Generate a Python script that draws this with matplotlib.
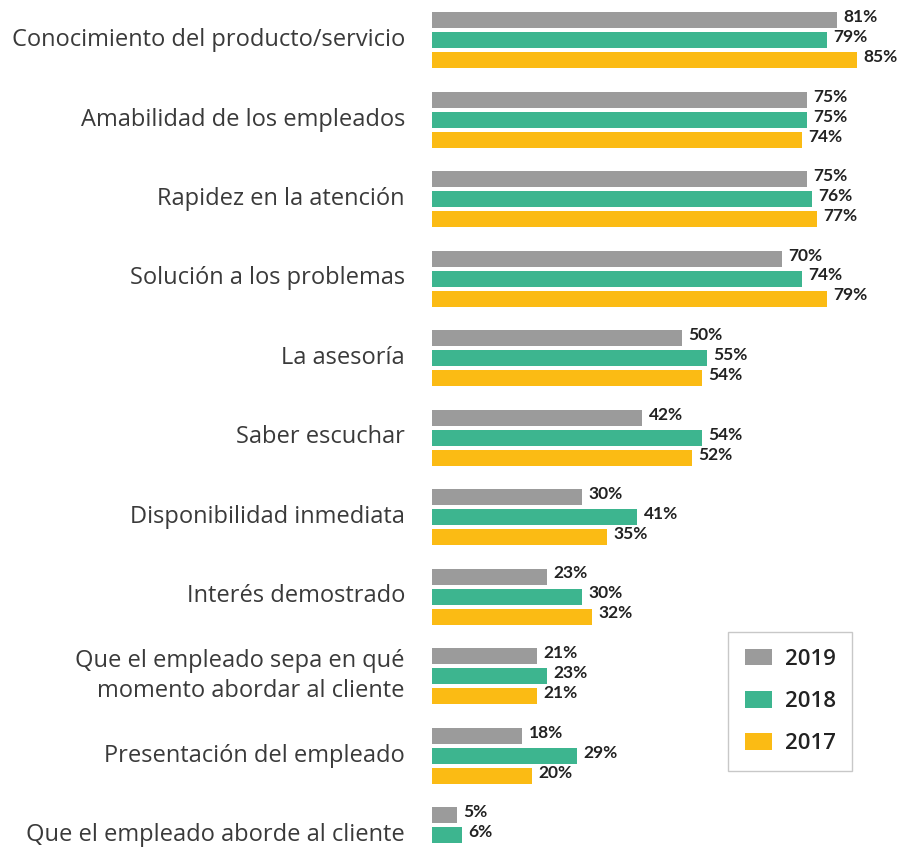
import matplotlib
matplotlib.use("Agg")
import matplotlib.pyplot as plt
from matplotlib.patches import Patch

categories = [
    "Conocimiento del producto/servicio",
    "Amabilidad de los empleados",
    "Rapidez en la atención",
    "Solución a los problemas",
    "La asesoría",
    "Saber escuchar",
    "Disponibilidad inmediata",
    "Interés demostrado",
    "Que el empleado sepa en qué\nmomento abordar al cliente",
    "Presentación del empleado",
    "Que el empleado aborde al cliente",
]
v2019 = [81, 75, 75, 70, 50, 42, 30, 23, 21, 18, 5]
v2018 = [79, 75, 76, 74, 55, 54, 41, 30, 23, 29, 6]
v2017 = [85, 74, 77, 79, 54, 52, 35, 32, 21, 20, None]
years = ["2019", "2018", "2017"]
colors = ["#9b9b9b", "#3db58f", "#fbbb14"]

W, H = 904, 850
fig = plt.figure(figsize=(W / 100, H / 100), dpi=100)
x0 = 432
ax = fig.add_axes([x0 / W, 0, (W - x0) / W, 1])
ax.set_xlim(0, (W - x0) / 5.0)
ax.set_ylim(H, 0)
ax.axis("off")

step = 79.5
first = 40
bh = 16
offs = [-20, 0, 20]
series = [v2019, v2018, v2017]

for i, cat in enumerate(categories):
    yc = first + step * i
    for s, (vals, col, off) in enumerate(zip(series, colors, offs)):
        v = vals[i]
        if v is None:
            continue
        y = yc + off
        ax.barh(y, v, height=bh, color=col, edgecolor="none")
        ax.text(v + 1.3, y - 3, f"{v}%", ha="left", va="center",
                fontsize=12.5, fontweight="bold", color="#222222",
                family="Lato")
    fig.text(405 / W, 1 - yc / H, cat, ha="right", va="center",
             fontsize=17, color="#3a3a3a", family="Open Sans",
             linespacing=1.3)

handles = [Patch(facecolor=c, edgecolor="none") for c in colors]
leg = fig.legend(handles, years, loc="upper left",
                 bbox_to_anchor=(728 / W, 1 - 632 / H),
                 borderaxespad=0, frameon=True, labelspacing=0.95,
                 handlelength=1.25, handleheight=0.78, handletextpad=0.55,
                 borderpad=0.75, fancybox=False,
                 prop={"family": "Open Sans", "size": 16, "weight": "semibold"})
leg.get_frame().set_edgecolor("#bbbbbb")
leg.get_frame().set_linewidth(1.0)
for t in leg.get_texts():
    t.set_color("#222222")

fig.savefig("out.png", dpi=100, facecolor="white")
